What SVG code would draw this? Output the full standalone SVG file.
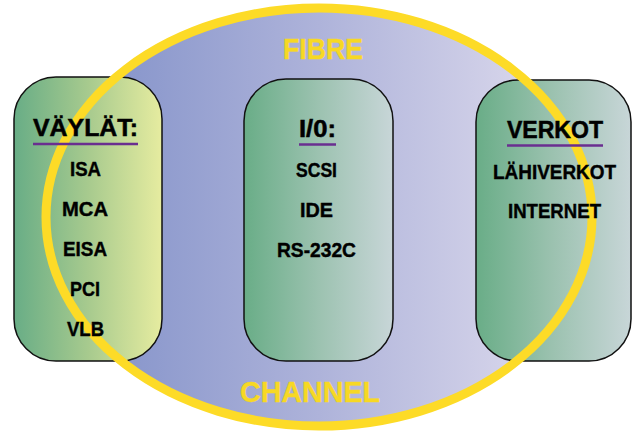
<svg xmlns="http://www.w3.org/2000/svg" width="632" height="431" viewBox="0 0 632 431">
<defs>
<linearGradient id="gEll" x1="0" y1="0" x2="1" y2="0">
<stop offset="0" stop-color="#7b8cc6"/>
<stop offset="0.5" stop-color="#aeb3da"/>
<stop offset="1" stop-color="#e4e0f0"/>
</linearGradient>
<linearGradient id="gLeft" x1="0" y1="0" x2="1" y2="0">
<stop offset="0" stop-color="#68ad86"/>
<stop offset="0.5" stop-color="#a7ca8e"/>
<stop offset="1" stop-color="#e6eca0"/>
</linearGradient>
<linearGradient id="gBox" x1="0" y1="0" x2="1" y2="0">
<stop offset="0" stop-color="#69ad87"/>
<stop offset="0.5" stop-color="#9cc2b0"/>
<stop offset="1" stop-color="#c8d6d8"/>
</linearGradient>
<style>
.box{stroke:#111;stroke-width:1.5}
.hd{font-family:"Liberation Sans",Arial,sans-serif;font-weight:700;font-size:24px;fill:#000;stroke:#000;stroke-width:0.5;text-anchor:middle}
.it{font-family:"Liberation Sans",Arial,sans-serif;font-weight:700;font-size:20px;fill:#000;stroke:#000;stroke-width:0.4;text-anchor:middle}
.fc{font-family:"Liberation Sans",Arial,sans-serif;font-weight:700;font-size:30px;fill:#f7d824;stroke:#f7d824;stroke-width:0.4;text-anchor:middle}
.ul{stroke:#6a2e90;stroke-width:2.5}
</style>
</defs>
<g id="fibre-channel">
<ellipse cx="319" cy="217" rx="273" ry="209" fill="url(#gEll)"/>
<text class="fc" x="323" y="59" textLength="80" lengthAdjust="spacingAndGlyphs">FIBRE</text>
<text class="fc" x="310" y="402" textLength="140" lengthAdjust="spacingAndGlyphs">CHANNEL</text>
</g>
<g id="vaylat">
<rect class="box" x="14" y="77" width="148" height="284" rx="42" ry="42" fill="url(#gLeft)"/>
</g>
<g id="io">
<rect class="box" x="244" y="79" width="149" height="282" rx="42" ry="42" fill="url(#gBox)"/>
</g>
<g id="verkot">
<rect class="box" x="476" y="80" width="155" height="281" rx="42" ry="42" fill="url(#gBox)"/>
</g>
<g id="fibre-channel-ring">
<ellipse cx="319" cy="217" rx="273" ry="209" fill="none" stroke="#fddb27" stroke-width="9"/>
</g>
<g id="connectors"/>
<g id="vaylat-labels">
<text class="hd" x="85.5" y="136" textLength="105" lengthAdjust="spacingAndGlyphs">VÄYLÄT:</text>
<line class="ul" x1="33" y1="144" x2="138" y2="144"/>
<text class="it" x="85.5" y="176" textLength="31" lengthAdjust="spacingAndGlyphs">ISA</text>
<text class="it" x="85" y="216" textLength="46" lengthAdjust="spacingAndGlyphs">MCA</text>
<text class="it" x="85" y="256" textLength="44" lengthAdjust="spacingAndGlyphs">EISA</text>
<text class="it" x="85" y="296" textLength="30" lengthAdjust="spacingAndGlyphs">PCI</text>
<text class="it" x="85.5" y="336" textLength="37" lengthAdjust="spacingAndGlyphs">VLB</text>
</g>
<g id="io-labels">
<text class="hd" x="317.5" y="137" textLength="37" lengthAdjust="spacingAndGlyphs">I/0:</text>
<line class="ul" x1="299" y1="144.5" x2="336" y2="144.5"/>
<text class="it" x="316.5" y="177" textLength="41" lengthAdjust="spacingAndGlyphs">SCSI</text>
<text class="it" x="316.5" y="217" textLength="33" lengthAdjust="spacingAndGlyphs">IDE</text>
<text class="it" x="316.5" y="257" textLength="79" lengthAdjust="spacingAndGlyphs">RS-232C</text>
</g>
<g id="verkot-labels">
<text class="hd" x="555" y="138" textLength="96" lengthAdjust="spacingAndGlyphs">VERKOT</text>
<line class="ul" x1="507" y1="145.5" x2="603" y2="145.5"/>
<text class="it" x="554.5" y="179" textLength="123" lengthAdjust="spacingAndGlyphs">LÄHIVERKOT</text>
<text class="it" x="554.5" y="218" textLength="93" lengthAdjust="spacingAndGlyphs">INTERNET</text>
</g>
</svg>
